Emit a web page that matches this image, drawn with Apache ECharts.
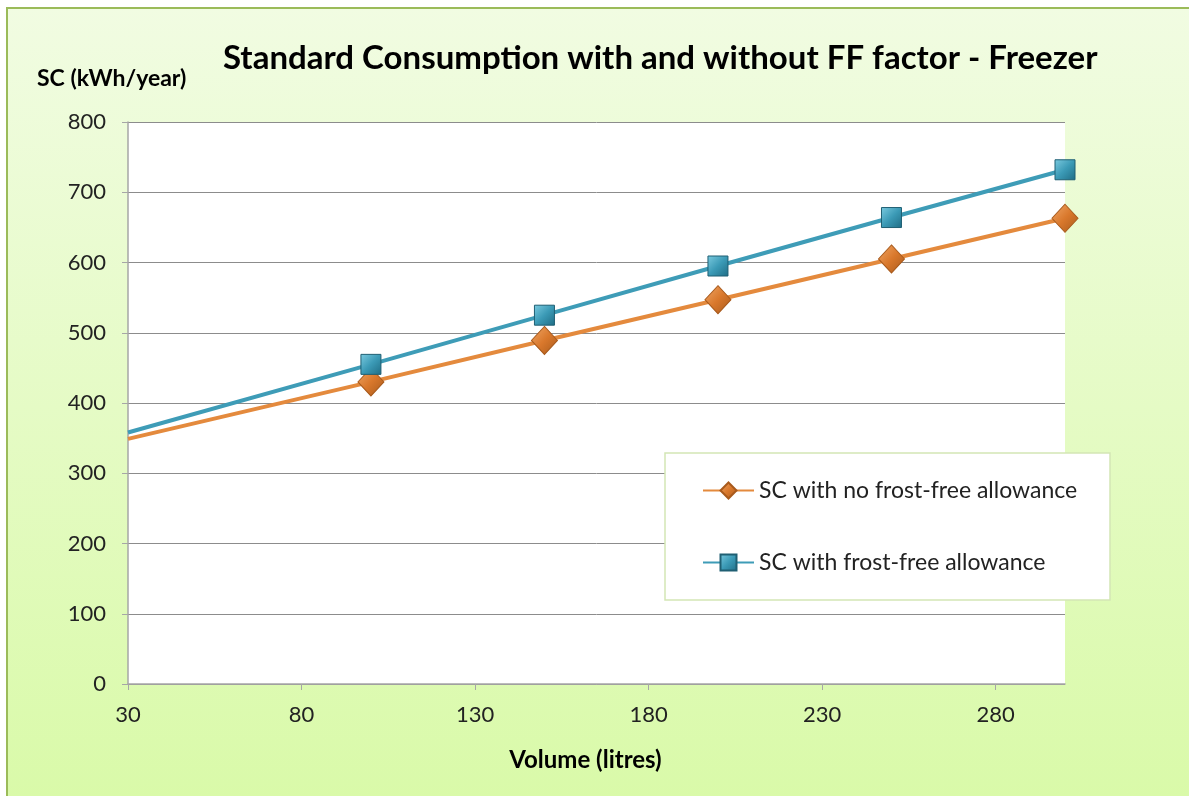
<!DOCTYPE html>
<html>
<head>
<meta charset="utf-8">
<script src="https://cdn.jsdelivr.net/npm/echarts@6/dist/echarts.min.js"></script>
<style>
html,body{margin:0;padding:0;background:#fff;}
#chart{width:1189px;height:796px;}
</style>
</head>
<body>
<div id="chart"></div>
<script>
const titleText = 'Standard Consumption with and without FF factor - Freezer';
const yAxisTitle = 'SC (kWh/year)';
const xAxisTitle = 'Volume (litres)';
const volumes = [30, 100, 150, 200, 250, 300];
const scNoFF = [349, 430, 489, 547, 605, 663];
const scFF = [358, 455, 525, 595, 664, 732];
const seriesNames = ['SC with no frost-free allowance', 'SC with frost-free allowance'];
const xTicks = [30, 80, 130, 180, 230, 280];

function toData(vals) {
  return volumes.map((v, i) => i === 0 ? {value: [v, vals[i]], symbol: 'none'} : [v, vals[i]]);
}

const font = 'Lato, "Open Sans", sans-serif';
const chart = echarts.init(document.getElementById('chart'), null, {renderer: 'canvas'});
const orangeFill = new echarts.graphic.LinearGradient(0, 0, 1, 1, [
  {offset: 0, color: '#F0A868'}, {offset: 0.5, color: '#D9782C'}, {offset: 1, color: '#A85A1C'}]);
const blueFill = new echarts.graphic.LinearGradient(0, 0, 1, 1, [
  {offset: 0, color: '#7CCBE0'}, {offset: 0.5, color: '#3B9AB6'}, {offset: 1, color: '#1F6C84'}]);

chart.setOption({
  backgroundColor: '#ffffff',
  animation: false,
  graphic: [
    {type: 'rect', z: -10, silent: true,
     shape: {x: 7, y: 8, width: 1200, height: 800},
     style: {
       fill: new echarts.graphic.LinearGradient(0, 0, 0, 1, [
         {offset: 0, color: '#F1FCE2'}, {offset: 1, color: '#D9FAA8'}]),
       stroke: '#9BBB59', lineWidth: 2
     }},
    {type: 'rect', z: 5, silent: true,
     shape: {x: 665, y: 453, width: 445, height: 147},
     style: {fill: '#ffffff', stroke: '#D3E6B5', lineWidth: 1.5}}
  ],
  title: [
    {text: titleText, left: 218, top: 37,
     textStyle: {fontFamily: font, fontSize: 33, fontWeight: 'bold', color: '#000'}},
    {text: yAxisTitle, left: 32, top: 62,
     textStyle: {fontFamily: font, fontSize: 23, fontWeight: 'bold', color: '#000'}}
  ],
  legend: {
    orient: 'vertical', left: 702, top: 479, itemGap: 49, z: 10, padding: 0,
    itemWidth: 51, itemHeight: 20,
    textStyle: {fontFamily: font, fontSize: 23, color: '#222'},
    data: seriesNames
  },
  grid: {left: 128, top: 122, right: 124, bottom: 112, show: true, backgroundColor: '#ffffff', borderWidth: 0},
  xAxis: {
    type: 'value', min: 30, max: 300, interval: 50,
    name: xAxisTitle, nameLocation: 'middle', nameGap: 64,
    nameTextStyle: {fontFamily: font, fontSize: 24, fontWeight: 'bold', color: '#000', padding: [0, 22, 0, 0]},
    axisLine: {show: true, lineStyle: {color: '#A6A6A6', width: 1.5}},
    axisTick: {show: true, length: 6, lineStyle: {color: '#A6A6A6'}, customValues: xTicks},
    axisLabel: {fontFamily: font, fontSize: 22, color: '#222', margin: 20, customValues: xTicks},
    splitLine: {show: false}
  },
  yAxis: {
    type: 'value', min: 0, max: 800, interval: 100,
    axisLine: {show: true, lineStyle: {color: '#A6A6A6', width: 1.5}},
    axisTick: {show: true, length: 6, lineStyle: {color: '#A6A6A6'}},
    axisLabel: {fontFamily: font, fontSize: 22, color: '#222', margin: 22},
    splitLine: {show: true, lineStyle: {color: '#8C8C8C', width: 1}}
  },
  series: [
    {name: seriesNames[0], type: 'line', data: toData(scNoFF),
     symbol: 'diamond', symbolSize: [26, 28], showAllSymbol: true,
     lineStyle: {color: '#E48A3D', width: 4},
     itemStyle: {color: orangeFill, borderColor: '#A85A1C', borderWidth: 1}, z: 3},
    {name: seriesNames[1], type: 'line', data: toData(scFF),
     symbol: 'rect', symbolSize: 20, showAllSymbol: true,
     lineStyle: {color: '#3E9CB7', width: 4},
     itemStyle: {color: blueFill, borderColor: '#1F5F73', borderWidth: 1}, z: 4}
  ]
});
</script>
</body>
</html>
